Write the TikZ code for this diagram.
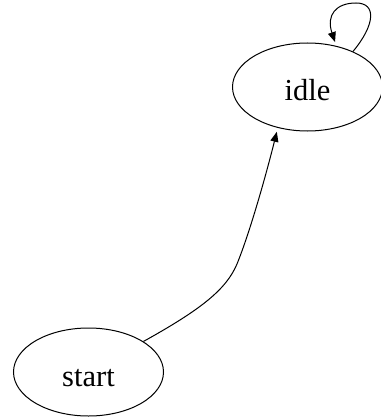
\documentclass[tikz,border=0pt]{standalone}
\usepackage{fontspec}
\setmainfont{Liberation Serif}
\usetikzlibrary{shapes.geometric,arrows.meta}
\begin{document}
\begin{tikzpicture}[x=1pt,y=-1pt,
  state/.style={draw,ellipse,line width=1pt,minimum width=150pt,minimum height=88pt,inner sep=0pt,text height=28pt,text depth=0pt,font=\fontsize{30.5}{36}\selectfont},
  edge/.style={line width=1pt,-{Triangle[length=10pt,width=8pt]},shorten >=4pt}]
\useasboundingbox (0,0) rectangle (380,417);
\node[state] (idle) at (307.5,87) {idle};
\node[state] (start) at (88.5,372) {start};
\draw[edge] (start) .. controls (200,310) and (226,290) .. (237,264)
  .. controls (250,232) and (266,175) .. (idle.234);
\draw[edge] (idle.38) .. controls (375,25) and (377,3) .. (356,3)
  .. controls (336,3) and (326,15) .. (idle.55);
\end{tikzpicture}
\end{document}
